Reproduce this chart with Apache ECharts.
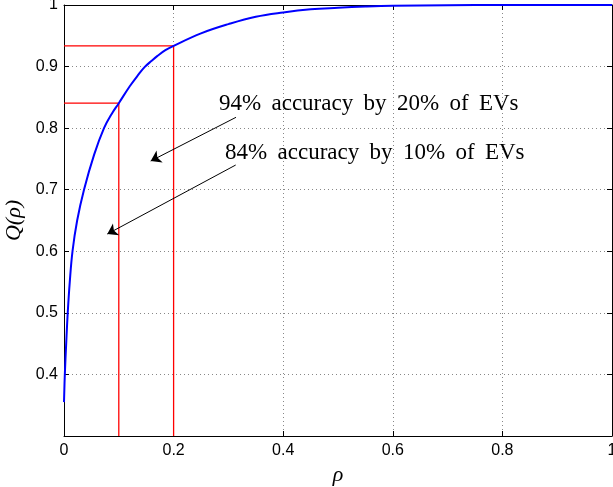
<!DOCTYPE html>
<html>
<head>
<meta charset="utf-8">
<script src="https://cdn.jsdelivr.net/npm/echarts@6/dist/echarts.min.js"></script>
<style>html,body{margin:0;padding:0;background:#fff;}#c{width:613px;height:487px;}</style>
</head>
<body>
<div id="c"></div>
<script>
// Curve Q(rho)
var rhoValues = [0, 0.0015, 0.004, 0.0068, 0.0105, 0.0155, 0.024, 0.0365, 0.055, 0.073, 0.087, 0.1, 0.12, 0.135, 0.147, 0.16, 0.17, 0.185, 0.2, 0.25, 0.3, 0.35, 0.4, 0.45, 0.5, 0.55, 0.6, 0.7, 0.8, 0.9, 1.0];
var qValues   = [0.355, 0.40, 0.45, 0.50, 0.55, 0.60, 0.65, 0.70, 0.757, 0.80, 0.823, 0.8405, 0.868, 0.886, 0.899, 0.9095, 0.917, 0.9266, 0.9337, 0.954, 0.969, 0.981, 0.988, 0.993, 0.9955, 0.9975, 0.9988, 0.9997, 1.0, 1.0, 1.0];
// red guide lines
var guide10 = [[0, 0.8405], [0.1, 0.8405], [0.1, 0.3]];
var guide20 = [[0, 0.9337], [0.2, 0.9337], [0.2, 0.3]];
// annotations
var annTexts = ['94% accuracy by 20% of EVs', '84% accuracy by 10% of EVs'];
var annTextPos = [[0.2828, 0.8387], [0.2938, 0.7603]];
var arrows = [
  [[0.3139, 0.8176], [0.1582, 0.7466]],
  [[0.3133, 0.7401], [0.0790, 0.6280]]
];

var curve = rhoValues.map(function (x, i) { return [x, qValues[i]]; });
var chart = echarts.init(document.getElementById('c'));
var serif = '"Liberation Serif", "DejaVu Serif", serif';
var sans = '"Liberation Sans", Arial, sans-serif';
var wideSpace = ' \u2009';

var option = {
  animation: false,
  backgroundColor: '#fff',
  grid: { left: 64, right: 1, top: 5, bottom: 51, containLabel: false, outerBoundsMode: 'none' },
  xAxis: [{
    type: 'value', min: 0, max: 1, interval: 0.2,
    name: 'ρ', nameLocation: 'middle', nameGap: 17,
    nameTextStyle: { fontFamily: serif, fontStyle: 'italic', fontSize: 22, color: '#000' },
    axisLine: { show: true, lineStyle: { color: '#000', width: 1 } },
    axisTick: { show: true, inside: true, length: 5, lineStyle: { color: '#000' } },
    axisLabel: { fontFamily: sans, fontSize: 16, color: '#000', margin: 7,
      formatter: function (v) { return String(Math.round(v * 10) / 10); } },
    splitLine: { show: true, lineStyle: { color: '#888', type: [1, 3], width: 1 } }
  }, {
    type: 'value', min: 0, max: 1, interval: 0.2, position: 'top',
    axisLine: { show: true, onZero: false, lineStyle: { color: '#000', width: 1 } },
    axisTick: { show: true, inside: true, length: 5, lineStyle: { color: '#000' } },
    axisLabel: { show: false }, splitLine: { show: false }
  }],
  yAxis: [{
    type: 'value', min: 0.3, max: 1, interval: 0.1,
    name: 'Q(ρ)', nameLocation: 'middle', nameGap: 36,
    nameTextStyle: { fontFamily: serif, fontStyle: 'italic', fontSize: 22, color: '#000' },
    axisLine: { show: true, lineStyle: { color: '#000', width: 1 } },
    axisTick: { show: true, inside: true, length: 5, lineStyle: { color: '#000' } },
    axisLabel: { fontFamily: sans, fontSize: 16, color: '#000', margin: 6,
      formatter: function (v) { var r = Math.round(v * 10) / 10; return r === 0.3 ? '' : String(r); } },
    splitLine: { show: true, lineStyle: { color: '#888', type: [1, 3], width: 1 } }
  }, {
    type: 'value', min: 0.3, max: 1, interval: 0.1, position: 'right',
    axisLine: { show: true, onZero: false, lineStyle: { color: '#000', width: 1 } },
    axisTick: { show: true, inside: true, length: 5, lineStyle: { color: '#000' } },
    axisLabel: { show: false }, splitLine: { show: false }
  }],
  series: [
    { type: 'line', data: guide10, symbol: 'none', lineStyle: { color: '#ff0000', width: 1.3 }, z: 3 },
    { type: 'line', data: guide20, symbol: 'none', lineStyle: { color: '#ff0000', width: 1.3 }, z: 3 },
    { type: 'line', data: curve, symbol: 'none', smooth: 0.4,
      lineStyle: { color: '#0000ff', width: 2 }, z: 4 },
    { type: 'lines', coordinateSystem: 'cartesian2d', z: 5,
      symbol: ['none', 'arrow'], symbolSize: [1, 10],
      lineStyle: { color: '#000', width: 1, opacity: 1 },
      itemStyle: { color: '#000' },
      data: arrows.map(function (a) { return { coords: a }; }) },
    { type: 'scatter', symbol: 'circle', symbolSize: 0, z: 6,
      itemStyle: { color: '#000', opacity: 1 },
      data: annTextPos.map(function (p, i) { return { value: p, name: annTexts[i] }; }),
      label: { show: true, position: 'right', distance: 0, align: 'left', verticalAlign: 'middle',
        formatter: function (p) { return p.name.split(' ').join(wideSpace); },
        fontFamily: serif, fontSize: 23, color: '#000', opacity: 1 } }
  ]
};
chart.setOption(option);
</script>
</body>
</html>
